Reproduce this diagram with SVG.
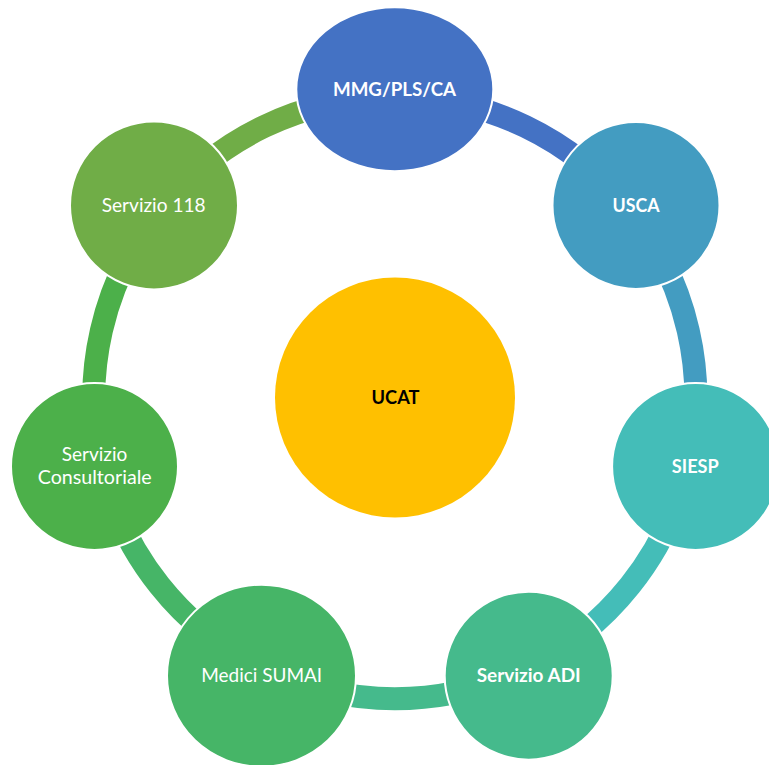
<svg xmlns="http://www.w3.org/2000/svg" width="769" height="765" viewBox="0 0 769 765">
<style>
  .seg { fill: none; stroke-width: 23; }
  .node { stroke: #FFFFFF; stroke-width: 2; }
  .lbl { font-family: Lato, "Open Sans", "Liberation Sans", sans-serif; font-size: 19px; fill: #FFFFFF; text-anchor: middle; }
  .b { font-weight: bold; }
</style>
<rect width="769" height="765" fill="#FFFFFF"/>
<g id="connectors">
  <path class="seg" stroke="#4472C4" d="M394.8 96.7 A301 301 0 0 1 630.13 210.03"/>
  <path class="seg" stroke="#439CC1" d="M630.13 210.03 A301 301 0 0 1 688.25 464.68"/>
  <path class="seg" stroke="#44BDB8" d="M688.25 464.68 A301 301 0 0 1 525.4 668.89"/>
  <path class="seg" stroke="#45BA8C" d="M525.4 668.89 A301 301 0 0 1 264.2 668.89"/>
  <path class="seg" stroke="#46B567" d="M264.2 668.89 A301 301 0 0 1 101.35 464.68"/>
  <path class="seg" stroke="#4CB04A" d="M101.35 464.68 A301 301 0 0 1 159.47 210.03"/>
  <path class="seg" stroke="#70AD47" d="M159.47 210.03 A301 301 0 0 1 394.8 96.7"/>
</g>
<g id="ucat">
  <circle cx="395" cy="397.5" r="120" fill="#FFC000"/>
  <text class="lbl b" x="395.5" y="404" fill="#000000" style="fill:#000000" textLength="48" lengthAdjust="spacingAndGlyphs">UCAT</text>
</g>
<g id="mmg">
  <ellipse class="node" cx="394.8" cy="89.2" rx="98.5" ry="82" fill="#4472C4"/>
  <text class="lbl b" x="394.5" y="96" textLength="123" lengthAdjust="spacingAndGlyphs">MMG/PLS/CA</text>
</g>
<g id="usca">
  <circle class="node" cx="636" cy="205.4" r="83.5" fill="#439CC1"/>
  <text class="lbl b" x="636" y="211.7" textLength="47" lengthAdjust="spacingAndGlyphs">USCA</text>
</g>
<g id="siesp">
  <circle class="node" cx="695.6" cy="466.4" r="83.5" fill="#44BDB8"/>
  <text class="lbl b" x="695.3" y="472.7" textLength="47" lengthAdjust="spacingAndGlyphs">SIESP</text>
</g>
<g id="adi">
  <circle class="node" cx="528.7" cy="675.7" r="84" fill="#45BA8C"/>
  <text class="lbl b" x="528.7" y="681.7" textLength="104" lengthAdjust="spacingAndGlyphs">Servizio ADI</text>
</g>
<g id="sumai">
  <ellipse class="node" cx="261.5" cy="675.7" rx="94.5" ry="91" fill="#46B567"/>
  <text class="lbl" x="261.7" y="681.7" textLength="121" lengthAdjust="spacingAndGlyphs">Medici SUMAI</text>
</g>
<g id="consultoriale">
  <circle class="node" cx="94.5" cy="466.4" r="83.5" fill="#4CB04A"/>
  <text class="lbl" x="94.5" y="461" textLength="65.5" lengthAdjust="spacingAndGlyphs">Servizio</text>
  <text class="lbl" x="94.7" y="484" textLength="114" lengthAdjust="spacingAndGlyphs">Consultoriale</text>
</g>
<g id="s118">
  <circle class="node" cx="154" cy="205.4" r="84" fill="#70AD47"/>
  <text class="lbl" x="153.7" y="212" textLength="104" lengthAdjust="spacingAndGlyphs">Servizio 118</text>
</g>
</svg>
